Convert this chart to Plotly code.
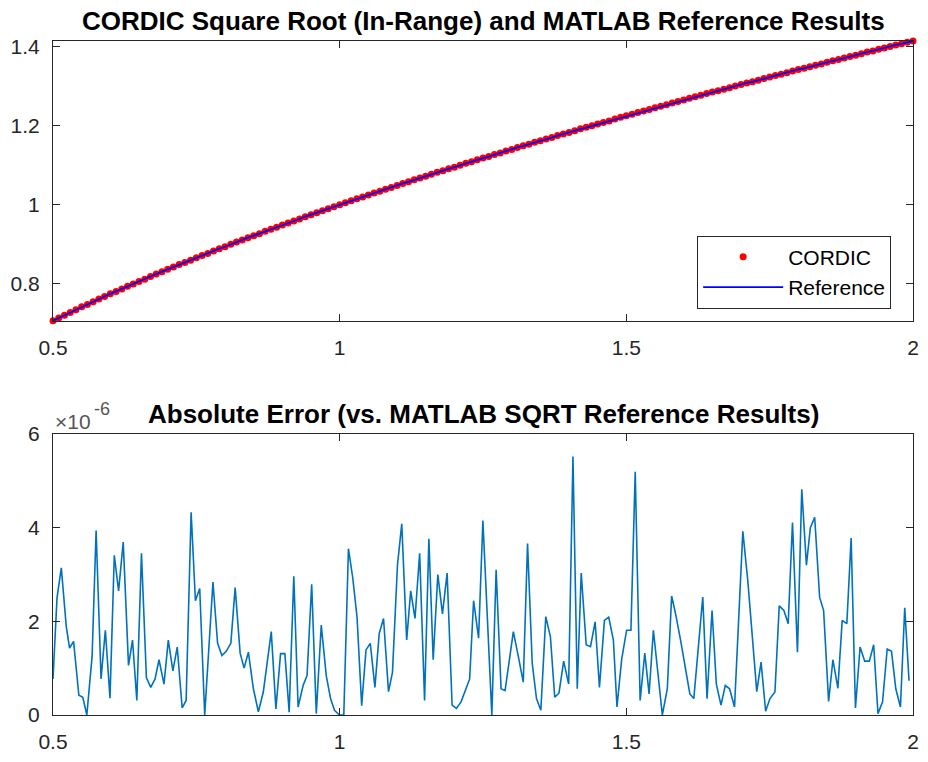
import plotly.graph_objects as go
from plotly.subplots import make_subplots

# Input grid for the square-root comparison (0.5 .. 2, step 0.01)
x_in = [round(0.50 + 0.01 * i, 2) for i in range(151)]

# sqrt results; CORDIC output and MATLAB reference agree to within ~6e-6,
# so both traces are drawn from these values
root_vals = [
    0.707, 0.714, 0.721, 0.728, 0.735, 0.742, 0.748, 0.755, 0.762, 0.768,
    0.775, 0.781, 0.787, 0.794, 0.800, 0.806, 0.812, 0.819, 0.825, 0.831,
    0.837, 0.843, 0.849, 0.854, 0.860, 0.866, 0.872, 0.877, 0.883, 0.889,
    0.894, 0.900, 0.906, 0.911, 0.917, 0.922, 0.927, 0.933, 0.938, 0.943,
    0.949, 0.954, 0.959, 0.964, 0.970, 0.975, 0.980, 0.985, 0.990, 0.995,
    1.000, 1.005, 1.010, 1.015, 1.020, 1.025, 1.030, 1.034, 1.039, 1.044,
    1.049, 1.054, 1.058, 1.063, 1.068, 1.072, 1.077, 1.082, 1.086, 1.091,
    1.095, 1.100, 1.105, 1.109, 1.114, 1.118, 1.122, 1.127, 1.131, 1.136,
    1.140, 1.145, 1.149, 1.153, 1.158, 1.162, 1.166, 1.170, 1.175, 1.179,
    1.183, 1.187, 1.192, 1.196, 1.200, 1.204, 1.208, 1.212, 1.217, 1.221,
    1.225, 1.229, 1.233, 1.237, 1.241, 1.245, 1.249, 1.253, 1.257, 1.261,
    1.265, 1.269, 1.273, 1.277, 1.281, 1.285, 1.288, 1.292, 1.296, 1.300,
    1.304, 1.308, 1.311, 1.315, 1.319, 1.323, 1.327, 1.330, 1.334, 1.338,
    1.342, 1.345, 1.349, 1.353, 1.356, 1.360, 1.364, 1.367, 1.371, 1.375,
    1.378, 1.382, 1.386, 1.389, 1.393, 1.396, 1.400, 1.404, 1.407, 1.411,
    1.414,
]

# Absolute error samples (units of 1e-6)
x_err = [
    0.5000, 0.5070, 0.5145, 0.5232, 0.5289, 0.5359, 0.5451, 0.5520, 0.5590, 0.5682,
    0.5752, 0.5838, 0.5913, 0.5994, 0.6069, 0.6144, 0.6225, 0.6317, 0.6387, 0.6462,
    0.6543, 0.6629, 0.6705, 0.6780, 0.6849, 0.6936, 0.7011, 0.7091, 0.7167, 0.7253,
    0.7322, 0.7409, 0.7484,
    0.7559, 0.7646, 0.7790, 0.7871, 0.7946, 0.8021, 0.8102, 0.8177, 0.8264, 0.8333,
    0.8408, 0.8495, 0.8582, 0.8668, 0.8807, 0.8888, 0.8969, 0.9044, 0.9119, 0.9200,
    0.9275, 0.9362, 0.9431, 0.9512, 0.9592, 0.9679, 0.9766, 0.9841, 0.9910, 0.9997,
    1.0072, 1.0153, 1.0228, 1.0303, 1.0384, 1.0459, 1.0534, 1.0615, 1.0690, 1.0765,
    1.0852, 1.0921, 1.1008, 1.1083, 1.1169, 1.1239, 1.1314, 1.1395, 1.1481, 1.1556,
    1.1631, 1.1712, 1.1793, 1.1874, 1.1961, 1.2036, 1.2117, 1.2203, 1.2267, 1.2336,
    1.2423, 1.2498,
    1.2654, 1.2729, 1.2815, 1.2885, 1.3029, 1.3116, 1.3202, 1.3277, 1.3358, 1.3433,
    1.3509, 1.3595, 1.3676, 1.3751, 1.3826, 1.3907, 1.3994, 1.4069, 1.4144, 1.4213,
    1.4300, 1.4375, 1.4456, 1.4531, 1.4618, 1.4693, 1.4774, 1.4837, 1.4918, 1.5005,
    1.5080, 1.5155, 1.5241, 1.5322, 1.5397, 1.5472, 1.5628, 1.5715, 1.5790, 1.5859,
    1.5946, 1.6108, 1.6177, 1.6333, 1.6408, 1.6495, 1.6570, 1.6651, 1.6726, 1.6801,
    1.6887, 1.7032, 1.7119, 1.7275, 1.7350, 1.7430, 1.7505,
    1.7592, 1.7667, 1.7748, 1.7823, 1.7898, 1.7985, 1.8060, 1.8141, 1.8210, 1.8285,
    1.8372, 1.8441, 1.8528, 1.8603, 1.8690, 1.8765, 1.8846, 1.8921, 1.8996, 1.9077,
    1.9158, 1.9238, 1.9314, 1.9389, 1.9469, 1.9550, 1.9625, 1.9700, 1.9781, 1.9856,
    1.9931,
]
abs_err_e6 = [
    0.77, 2.50, 3.14, 1.88, 1.43, 1.57, 0.42, 0.38, 0.00, 1.25,
    3.94, 0.77, 1.81, 0.36, 3.41, 2.65, 3.69, 1.06, 1.60, 0.31,
    3.45, 0.80, 0.59, 0.77, 1.18, 0.66, 1.60, 0.94, 1.45, 0.15,
    0.31, 4.33, 2.44,
    2.70, 0.00, 2.84, 1.53, 1.27, 1.36, 1.53, 2.72, 1.32, 1.00,
    1.34, 0.56, 0.07, 0.49, 1.78, 0.13, 1.31, 1.31, 0.06, 2.96,
    0.17, 0.63, 0.84, 2.79, 0.03, 1.92, 0.84, 0.35, 0.10, 0.00,
    0.00, 3.55, 2.93, 2.09, 0.20, 1.39, 1.53, 0.59, 1.74, 2.06,
    0.50, 0.91, 3.20, 4.08, 1.60, 2.65, 2.06, 3.45, 0.31, 3.76,
    1.18, 3.00, 2.16, 3.03, 0.21, 0.14, 0.28, 0.56, 0.77, 2.44,
    1.64, 4.15,
    0.00, 3.10, 0.56, 0.52, 1.78, 1.25, 0.70, 3.66, 1.11, 0.35,
    0.10, 2.10, 1.67, 0.38, 0.47, 1.15, 0.66, 5.52, 0.56, 3.03,
    1.50, 1.46, 1.99, 0.59, 2.02, 2.09, 1.60, 0.17, 1.18, 1.81,
    1.81, 5.19, 0.31, 1.32, 0.45, 1.81, 0.00, 0.56, 2.54, 2.16,
    1.60, 0.45, 0.35, 2.52, 0.35, 2.23, 0.66, 0.21, 0.63, 0.56,
    0.17, 3.92, 2.86, 0.50, 1.13, 0.08, 0.35,
    0.49, 2.33, 2.23, 1.95, 4.11, 1.34, 4.82, 3.20, 4.00, 4.22,
    2.51, 2.23, 0.29, 1.18, 0.57, 2.02, 1.95, 3.78, 0.15, 1.45,
    1.15, 1.15, 1.50, 0.03, 0.28, 1.41, 1.36, 0.56, 0.17, 2.29,
    0.73,
]

x_ticks = [0.5, 1, 1.5, 2]
y_ticks_top = [0.8, 1, 1.2, 1.4]
y_ticks_bottom = [0, 2, 4, 6]

FONT = "Liberation Sans, Arial, sans-serif"
AX = "#262626"

fig = make_subplots(rows=2, cols=1, vertical_spacing=0.0)

fig.add_trace(go.Scatter(
    x=x_in, y=root_vals, mode="markers", name="CORDIC",
    marker=dict(color="#ff0000", size=7, symbol="circle", line=dict(width=0)),
    cliponaxis=False,
), row=1, col=1)
fig.add_trace(go.Scatter(
    x=x_in, y=root_vals, mode="lines", name="Reference",
    line=dict(color="#0000ff", width=1.8),
), row=1, col=1)
fig.add_trace(go.Scatter(
    x=x_err, y=abs_err_e6, mode="lines", showlegend=False,
    line=dict(color="#0072bd", width=1.6),
), row=2, col=1)

axis_style = dict(
    showline=True, linecolor=AX, linewidth=1, mirror="ticks",
    ticks="inside", ticklen=7, tickcolor=AX, tickwidth=1,
    showgrid=False, zeroline=False,
    tickfont=dict(family=FONT, size=21, color=AX),
)

fig.update_xaxes(range=[0.5, 2], tickvals=x_ticks, ticklabelstandoff=8, **axis_style)
fig.update_yaxes(ticklabelstandoff=8, **axis_style)
# y limits fitted tightly to the sqrt data
fig.update_yaxes(range=[root_vals[0], root_vals[-1]], tickvals=y_ticks_top, row=1, col=1)
fig.update_yaxes(range=[0, 6], tickvals=y_ticks_bottom, row=2, col=1)

fig.update_layout(
    width=928, height=762,
    margin=dict(l=53, r=9, t=41, b=40),
    paper_bgcolor="white", plot_bgcolor="white",
    font=dict(family=FONT, color=AX),
    xaxis=dict(domain=[0, 1]),
    yaxis=dict(domain=[0.585, 1.0]),
    yaxis2=dict(domain=[0.0, 0.417]),
    legend=dict(
        x=0.9746, y=0.6030, xanchor="right", yanchor="bottom",
        bgcolor="white", bordercolor=AX, borderwidth=1,
        font=dict(family=FONT, size=21, color="#000000"),
        itemwidth=80, tracegroupgap=0,
    ),
    annotations=[
        dict(text="<b>CORDIC Square Root (In-Range) and MATLAB Reference Results</b>",
             xref="paper", yref="paper", x=0.5, y=1.030, xanchor="center", yanchor="middle",
             showarrow=False, font=dict(family=FONT, size=26, color="#000000")),
        dict(text="<b>Absolute Error (vs. MATLAB SQRT Reference Results)</b>",
             xref="paper", yref="paper", x=0.5, y=0.4460, xanchor="center", yanchor="middle",
             showarrow=False, font=dict(family=FONT, size=26, color="#000000")),
        # axis exponent label: "x10" with the power raised beside it
        dict(text="\u00d710",
             xref="paper", yref="paper", x=0.0, y=0.4360, xanchor="left", yanchor="middle",
             showarrow=False, font=dict(family=FONT, size=21, color="#555555")),
        dict(text="-6",
             xref="paper", yref="paper", x=0.0455, y=0.4540, xanchor="left", yanchor="middle",
             showarrow=False, font=dict(family=FONT, size=18, color="#555555")),
    ],
)

fig.write_html("out.html")
